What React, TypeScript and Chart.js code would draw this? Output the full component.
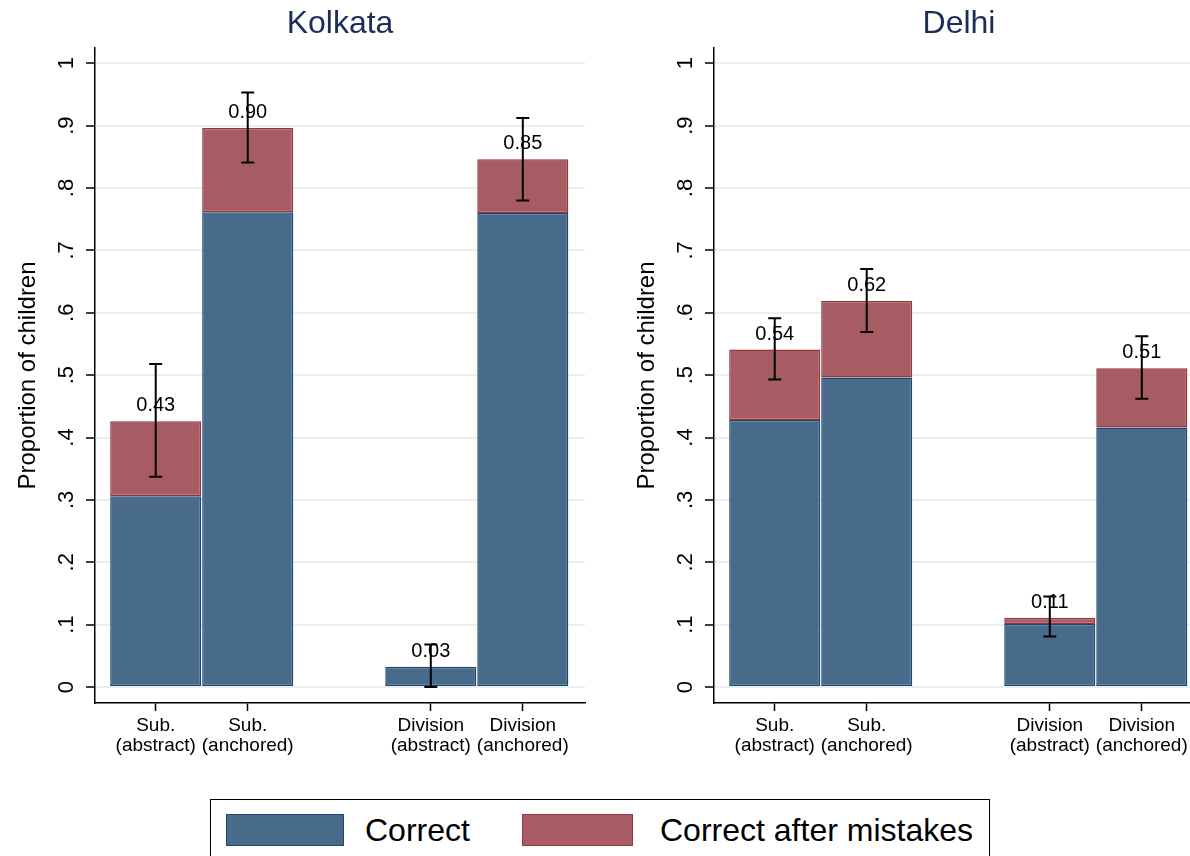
import React, { useEffect, useRef } from "react";
import { Chart, registerables } from "chart.js";

Chart.register(...registerables);

const FONT = '"Liberation Sans", Arial, Helvetica, sans-serif';

// Category labels (two lines each) and bar centre positions on the x axis
const categoryLabels: string[][] = [
  ["Sub.", "(abstract)"],
  ["Sub.", "(anchored)"],
  ["Division", "(abstract)"],
  ["Division", "(anchored)"],
];
const barCenters = [0.66, 1.66, 3.65, 4.65];

// y axis ticks
const yTickValues = [0, 0.1, 0.2, 0.3, 0.4, 0.5, 0.6, 0.7, 0.8, 0.9, 1];
const yTickLabels = ["0", ".1", ".2", ".3", ".4", ".5", ".6", ".7", ".8", ".9", "1"];

// Kolkata
const kolkataCorrect = [0.306, 0.761, 0.0325, 0.76];
const kolkataAfterMistakes = [0.12, 0.135, 0, 0.086];
const kolkataCiLow = [0.337, 0.841, 0.0, 0.78];
const kolkataCiHigh = [0.518, 0.953, 0.068, 0.912];

// Delhi
const delhiCorrect = [0.428, 0.496, 0.101, 0.416];
const delhiAfterMistakes = [0.113, 0.123, 0.01, 0.095];
const delhiCiLow = [0.493, 0.569, 0.081, 0.462];
const delhiCiHigh = [0.591, 0.67, 0.145, 0.5625];

const seriesNames = ["Correct", "Correct after mistakes"];

const BLUE_FILL = "#486b8c";
const BLUE_LINE = "#1c4870";
const RED_FILL = "#a65c62";
const RED_LINE = "#93363d";
const GRID = "#e9f0f2";
const TITLE_COLOR = "#1c2d5a";

const X_MIN = 0;
const X_FULL = 5.326; // full panel width in bar units
const Y_MIN = -0.0256;
const Y_MAX = 1.0244;

const annotatePlugin = {
  id: "annotate",
  afterDatasetsDraw(chart: any, _args: any, opts: any) {
    const ctx = chart.ctx;
    const xs = chart.scales.x;
    const ys = chart.scales.y;
    ctx.save();
    // value labels above each stacked bar
    ctx.fillStyle = "#000";
    ctx.font = `20px ${FONT}`;
    ctx.textAlign = "center";
    ctx.textBaseline = "alphabetic";
    opts.correct.forEach((c: number, i: number) => {
      const total = c + opts.after[i];
      const px = xs.getPixelForValue(barCenters[i]);
      ctx.fillText(total.toFixed(2), px, ys.getPixelForValue(total) - 10);
    });
    // confidence intervals
    ctx.strokeStyle = "#000";
    ctx.lineWidth = 2;
    opts.ciLow.forEach((lo: number, i: number) => {
      const px = xs.getPixelForValue(barCenters[i]);
      const pLo = ys.getPixelForValue(lo);
      const pHi = ys.getPixelForValue(opts.ciHigh[i]);
      ctx.beginPath();
      ctx.moveTo(px, pLo);
      ctx.lineTo(px, pHi);
      ctx.moveTo(px - 6.5, pLo);
      ctx.lineTo(px + 6.5, pLo);
      ctx.moveTo(px - 6.5, pHi);
      ctx.lineTo(px + 6.5, pHi);
      ctx.stroke();
    });
    ctx.restore();
  },
  afterDraw(chart: any, _args: any, opts: any) {
    const ctx = chart.ctx;
    const xs = chart.scales.x;
    const ys = chart.scales.y;
    const area = chart.chartArea;
    ctx.save();
    // panel title
    ctx.fillStyle = TITLE_COLOR;
    ctx.font = `32px ${FONT}`;
    ctx.textAlign = "center";
    ctx.textBaseline = "alphabetic";
    ctx.fillText(opts.title, xs.getPixelForValue(X_FULL / 2), 33);

    // rotated y tick labels
    ctx.fillStyle = "#000";
    ctx.font = `22px ${FONT}`;
    yTickValues.forEach((v, i) => {
      ctx.save();
      ctx.translate(area.left - 22, ys.getPixelForValue(v));
      ctx.rotate(-Math.PI / 2);
      ctx.fillText(yTickLabels[i], 0, 0);
      ctx.restore();
    });

    // y axis title
    ctx.save();
    ctx.font = `24px ${FONT}`;
    ctx.translate(area.left - 60, (area.top + area.bottom) / 2);
    ctx.rotate(-Math.PI / 2);
    ctx.fillText("Proportion of children", 0, 0);
    ctx.restore();

    // x category labels
    ctx.font = `19px ${FONT}`;
    categoryLabels.forEach((lines, i) => {
      const px = xs.getPixelForValue(barCenters[i]);
      ctx.fillText(lines[0], px, area.bottom + 28);
      ctx.fillText(lines[1], px, area.bottom + 48);
    });
    ctx.restore();
  },
};

type PanelProps = {
  title: string;
  correct: number[];
  after: number[];
  ciLow: number[];
  ciHigh: number[];
  left: number;
  width: number;
  axisLeft: number;
  plotRight: number;
  xMax: number;
};

const CANVAS_H = 790;
const PLOT_TOP = 48;
const PLOT_BOTTOM = 703;

function Panel(props: PanelProps) {
  const ref = useRef<HTMLCanvasElement | null>(null);
  useEffect(() => {
    if (!ref.current) return;
    const toPoints = (vals: number[]) =>
      barCenters.map((x, i) => ({ x, y: vals[i] === 0 ? null : vals[i] }));
    const chart = new Chart(ref.current, {
      type: "bar",
      data: {
        datasets: [
          {
            label: seriesNames[0],
            data: toPoints(props.correct) as any,
            backgroundColor: BLUE_FILL,
            borderColor: BLUE_LINE,
            borderWidth: 1.5,
            borderSkipped: false,
            barPercentage: 0.99,
            categoryPercentage: 1,
          },
          {
            label: seriesNames[1],
            data: toPoints(props.after) as any,
            backgroundColor: RED_FILL,
            borderColor: RED_LINE,
            borderWidth: 1.5,
            borderSkipped: false,
            barPercentage: 0.99,
            categoryPercentage: 1,
          },
        ],
      },
      options: {
        animation: false,
        responsive: false,
        devicePixelRatio: 1,
        events: [],
        layout: {
          padding: { top: PLOT_TOP, left: 0, bottom: 0, right: props.width - props.plotRight },
        },
        plugins: {
          legend: { display: false },
          tooltip: { enabled: false },
          title: { display: false },
          annotate: {
            title: props.title,
            correct: props.correct,
            after: props.after,
            ciLow: props.ciLow,
            ciHigh: props.ciHigh,
          },
        } as any,
        scales: {
          x: {
            type: "linear",
            stacked: true,
            offset: false,
            min: X_MIN,
            max: props.xMax,
            afterBuildTicks: (s: any) => {
              s.ticks = barCenters.map((v) => ({ value: v }));
            },
            afterFit: (s: any) => {
              s.height = CANVAS_H - PLOT_BOTTOM;
            },
            ticks: { display: false },
            grid: {
              offset: false,
              drawOnChartArea: false,
              drawTicks: true,
              tickLength: 8,
              tickColor: "#000",
              tickWidth: 1.5,
            },
            border: { display: true, color: "#000", width: 1.5 },
          },
          y: {
            type: "linear",
            stacked: true,
            min: Y_MIN,
            max: Y_MAX,
            afterBuildTicks: (s: any) => {
              s.ticks = yTickValues.map((v) => ({ value: v }));
            },
            afterFit: (s: any) => {
              s.width = props.axisLeft;
            },
            ticks: { display: false },
            grid: {
              color: GRID,
              lineWidth: 2,
              drawTicks: true,
              tickLength: 9,
              tickColor: "#000",
              tickWidth: 1.5,
            },
            border: { display: true, color: "#000", width: 1.5 },
          },
        },
      },
      plugins: [annotatePlugin],
    });
    return () => chart.destroy();
  }, []);
  return (
    <canvas
      ref={ref}
      width={props.width}
      height={CANVAS_H}
      style={{ position: "absolute", left: props.left, top: 0, width: props.width, height: CANVAS_H }}
    />
  );
}

function LegendBox() {
  const swatch = (left: number, width: number, fill: string, line: string) => (
    <div
      style={{
        position: "absolute",
        left,
        top: 814,
        width,
        height: 32,
        boxSizing: "border-box",
        background: fill,
        border: `1.5px solid ${line}`,
      }}
    />
  );
  const label = (left: number, text: string) => (
    <div
      style={{
        position: "absolute",
        left,
        top: 814,
        height: 32,
        lineHeight: "32px",
        fontFamily: FONT,
        fontSize: 32,
        color: "#000",
        whiteSpace: "nowrap",
      }}
    >
      {text}
    </div>
  );
  return (
    <>
      <div
        style={{
          position: "absolute",
          left: 210,
          top: 799,
          width: 780,
          height: 90,
          boxSizing: "border-box",
          border: "1.5px solid #000",
        }}
      />
      {swatch(226, 118, BLUE_FILL, BLUE_LINE)}
      {label(365, seriesNames[0])}
      {swatch(522, 111, RED_FILL, RED_LINE)}
      {label(660, seriesNames[1])}
    </>
  );
}

export default function App() {
  return (
    <div
      style={{
        position: "fixed",
        left: 0,
        top: 0,
        width: 1190,
        height: 856,
        overflow: "hidden",
        background: "#fff",
      }}
    >
      <Panel
        title="Kolkata"
        correct={kolkataCorrect}
        after={kolkataAfterMistakes}
        ciLow={kolkataCiLow}
        ciHigh={kolkataCiHigh}
        left={0}
        width={600}
        axisLeft={95}
        plotRight={585}
        xMax={X_FULL}
      />
      <Panel
        title="Delhi"
        correct={delhiCorrect}
        after={delhiAfterMistakes}
        ciLow={delhiCiLow}
        ciHigh={delhiCiHigh}
        left={600}
        width={590}
        axisLeft={114}
        plotRight={590}
        xMax={(590 - 114) / 92}
      />
      <LegendBox />
    </div>
  );
}
